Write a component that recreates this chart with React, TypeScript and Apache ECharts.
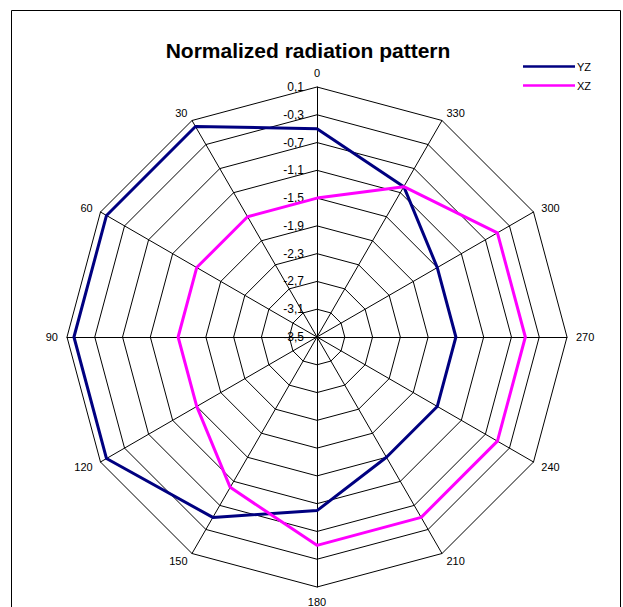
import React, { useEffect, useRef } from "react";
import * as echarts from "echarts";

const angles = ["0", "30", "60", "90", "120", "150", "180", "210", "240", "270", "300", "330"];
const yzValues = [-0.5, 0, 0, 0, 0, -0.5, -1.0, -1.5, -1.5, -1.5, -1.5, -1.0];
const xzValues = [-1.5, -1.5, -1.5, -1.5, -1.5, -1.0, -0.5, -0.5, -0.5, -0.5, -0.5, -1.0];
const axisMin = -3.5;
const axisMax = 0.1;
const splitCount = 9;

export default function App() {
  const ref = useRef<HTMLDivElement>(null);
  useEffect(() => {
    if (!ref.current) return;
    const chart = echarts.init(ref.current, null, { renderer: "svg" });
    const font = "'Liberation Sans', Arial, sans-serif";
    chart.setOption({
      animation: false,
      backgroundColor: "#ffffff",
      title: {
        text: "Normalized radiation pattern",
        left: 303,
        top: 35,
        textAlign: "center",
        textStyle: { fontFamily: font, fontSize: 21, fontWeight: "bold", color: "#000" },
      },
      legend: {
        orient: "vertical",
        left: 518,
        top: 56,
        itemWidth: 52,
        itemHeight: 14,
        itemGap: 8,
        icon: "path://M0,6 L52,6 L52,8.5 L0,8.5 Z",
        textStyle: { fontFamily: font, fontSize: 11, color: "#000", padding: [0, 0, 0, -3] },
        data: ["YZ", "XZ"],
      },
      graphic: [
        {
          type: "rect",
          shape: { x: 11.5, y: 10.5, width: 609, height: 620 },
          style: { fill: "none", stroke: "#000", lineWidth: 1 },
          silent: true,
        },
      ],
      radar: {
        center: [317, 337],
        radius: 250,
        startAngle: 90,
        shape: "polygon",
        splitNumber: splitCount,
        nameGap: 9,
        axisName: { color: "#000", fontFamily: font, fontSize: 11 },
        axisLine: { lineStyle: { color: "#000", width: 1 } },
        splitLine: { lineStyle: { color: "#000", width: 1 } },
        splitArea: { show: false },
        axisTick: { show: false },
        axisLabel: { show: false },
        indicator: angles.map((a, i) => ({
          name: a,
          min: axisMin,
          max: axisMax,
          ...(i === 0
            ? {
                axisLabel: {
                  show: true,
                  color: "#000",
                  fontFamily: font,
                  fontSize: 12,
                  margin: 13,
                  formatter: (v: number) => v.toFixed(1).replace(".", ","),
                },
              }
            : {}),
        })),
      },
      series: [
        {
          type: "radar",
          symbol: "none",
          data: [
            { name: "YZ", value: yzValues, lineStyle: { color: "#000080", width: 3 }, itemStyle: { color: "#000080" } },
            { name: "XZ", value: xzValues, lineStyle: { color: "#ff00ff", width: 3 }, itemStyle: { color: "#ff00ff" } },
          ],
        },
      ],
    });
    return () => chart.dispose();
  }, []);
  return <div ref={ref} style={{ position: "fixed", left: 0, top: 0, width: 623, height: 607 }} />;
}
